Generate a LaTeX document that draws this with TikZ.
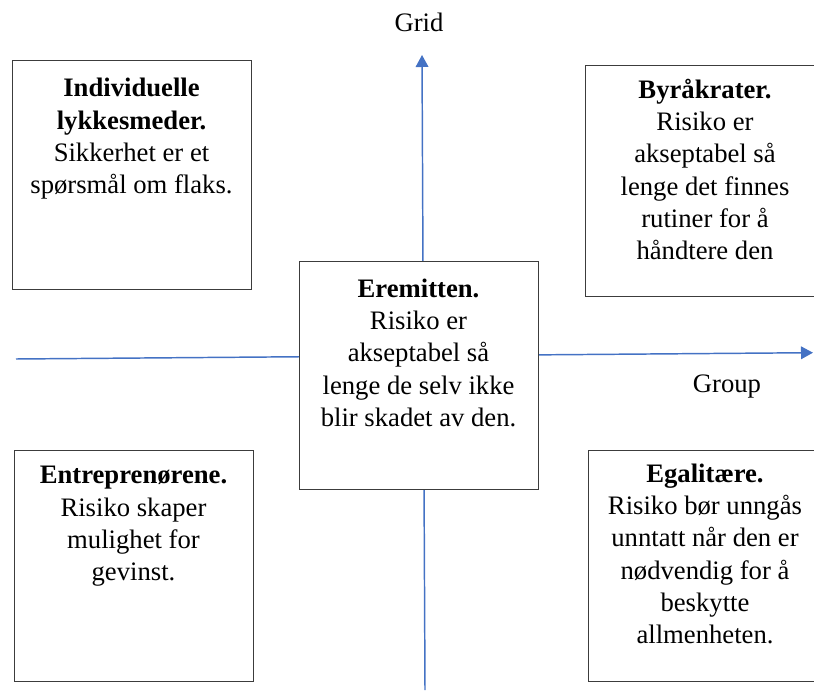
\documentclass[tikz,border=0pt]{standalone}
\usepackage{fontspec}
\setmainfont{Liberation Serif}
\usetikzlibrary{arrows.meta}
\definecolor{axisblue}{HTML}{4472C4}
\definecolor{boxline}{HTML}{3C3C3C}
\tikzset{
  axis/.style={draw=axisblue, line width=1.1pt,
    -{Triangle[length=9pt,width=9.5pt]}},
  quadbox/.style={draw=boxline, line width=1.1pt, fill=white,
    rectangle, inner sep=0pt, anchor=north west},
  quadtext/.style={anchor=north, inner sep=0pt, align=center,
    font=\fontsize{20}{24.2}\selectfont},
  axislabel/.style={anchor=base, inner sep=0pt,
    font=\fontsize{20}{24.2}\selectfont}
}
\begin{document}
\begin{tikzpicture}[x=0.75pt, y=-0.75pt]
\useasboundingbox (0,0) rectangle (814,691);

% axis end points
\coordinate (gridtop) at (422,55);
\coordinate (gridbottom) at (425,690);
\coordinate (groupleft) at (16,359);
\coordinate (groupright) at (813,352.7);

% axes
\draw[axis] (gridbottom) -- (gridtop);
\draw[axis] (groupleft) -- (groupright);

% axis labels
\node[axislabel] (gridlabel) at (419,31.5) {Grid};
\node[axislabel] (grouplabel) at (727,393) {Group};

% quadrant boxes
\node[quadbox, minimum width=239*0.75pt, minimum height=229*0.75pt] (tlbox) at (12,60) {};
\node[quadbox, minimum width=240*0.75pt, minimum height=231*0.75pt] (trbox) at (585,65) {};
\node[quadbox, minimum width=239*0.75pt, minimum height=231*0.75pt] (blbox) at (14,450) {};
\node[quadbox, minimum width=234*0.75pt, minimum height=231*0.75pt] (brbox) at (588,450) {};
\node[quadbox, minimum width=239*0.75pt, minimum height=228*0.75pt] (cbox) at (299,261) {};

% box texts
\node[quadtext] (tltext) at (131.5,74)
  {\strut\textbf{Individuelle}\\\textbf{lykkesmeder.}\\Sikkerhet er et\\spørsmål om flaks.};
\node[quadtext] (trtext) at (705,75.5)
  {\strut\textbf{Byråkrater.}\\Risiko er\\akseptabel så\\lenge det finnes\\rutiner for å\\håndtere den};
\node[quadtext] (ctext) at (418.5,274.5)
  {\strut\textbf{Eremitten.}\\Risiko er\\akseptabel så\\lenge de selv ikke\\blir skadet av den.};
\node[quadtext] (bltext) at (133.5,461)
  {\strut\textbf{Entreprenørene.}\\Risiko skaper\\mulighet for\\gevinst.};
\node[quadtext] (brtext) at (705,459.5)
  {\strut\textbf{Egalitære.}\\Risiko bør unngås\\unntatt når den er\\nødvendig for å\\beskytte\\allmenheten.};
\end{tikzpicture}
\end{document}
